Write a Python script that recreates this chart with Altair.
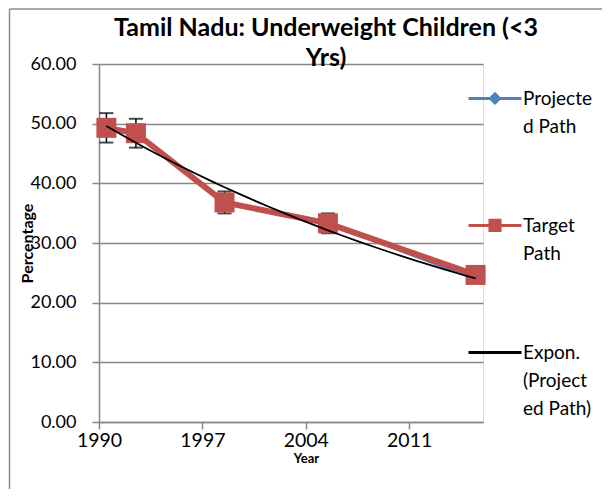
import altair as alt
import pandas as pd

# ---- data ----
years = [1990, 1992, 1998, 2005, 2015]
projected = [49.3, 48.4, 36.8, 33.3, 24.0]
target = [49.3, 48.4, 36.8, 33.3, 24.65]
series_names = ["Projected Path", "Target Path", "Expon. (Projected Path)"]
series_colors = ["#4F81BD", "#C0504D", "#000000"]
x_ticks = [1990, 1997, 2004, 2011]
y_ticks = [0, 10, 20, 30, 40, 50, 60]

df = pd.DataFrame({"year": years, "projected": projected, "target": target})

FONT = "Lato"
GRID = "#868686"
W, H = 384, 358

xscale = alt.Scale(domain=[1990, 2016], nice=False, zero=False)
yscale = alt.Scale(domain=[0, 60], nice=False)

x_enc = alt.X(
    "xpos:Q",
    scale=xscale,
    axis=alt.Axis(
        values=x_ticks, format="d", title="Year", grid=False, labelFlush=False,
        domainColor=GRID, domainWidth=1.5, tickColor=GRID, tickWidth=1.5, tickSize=7,
        labelFont=FONT, labelFontSize=19.5, labelColor="#000", labelPadding=2,
        titleFont=FONT, titleFontSize=13, titleFontWeight="bold", titleColor="#000",
        titleX=207, titleY=40, titleBaseline="alphabetic", titleAnchor="start", titleAlign="center",
    ),
)
y_axis = alt.Axis(
    values=y_ticks, format=".2f", title="Percentage", grid=True, labelFlush=False,
    gridColor=GRID, gridWidth=1.3, domainColor=GRID, domainWidth=1.5,
    tickColor=GRID, tickWidth=1.5, tickSize=7,
    labelFont=FONT, labelFontSize=18, labelColor="#000", labelPadding=16,
    titleFont=FONT, titleFontSize=16, titleFontWeight="bold", titleColor="#000",
    titleX=-72, titleY=179, titleAngle=-90, titleBaseline="middle", titleAlign="center",
)

base = alt.Chart(df).transform_calculate(xpos="datum.year + 0.5")

proj_line = base.mark_line(
    color="#4F81BD", strokeWidth=3,
    point=alt.OverlayMarkDef(shape="diamond", size=110, filled=True, color="#4F81BD", opacity=1),
).encode(x=x_enc, y=alt.Y("projected:Q", scale=yscale, axis=y_axis))

err = base.transform_calculate(lo="datum.target * 0.95", hi="datum.target * 1.05")
err_rule = err.mark_rule(color="black", strokeWidth=1.5).encode(
    x="xpos:Q", y="lo:Q", y2="hi:Q"
)
err_lo = err.mark_tick(color="black", orient="horizontal", size=14, thickness=2).encode(
    x="xpos:Q", y="lo:Q"
)
err_hi = err.mark_tick(color="black", orient="horizontal", size=14, thickness=2).encode(
    x="xpos:Q", y="hi:Q"
)

targ_line = base.mark_line(
    color="#C0504D", strokeWidth=6,
    point=alt.OverlayMarkDef(shape="square", size=400, filled=True, color="#C0504D", opacity=1),
).encode(x="xpos:Q", y="target:Q")

trend = base.transform_regression(
    "xpos", "projected", method="exp"
).mark_line(color="black", strokeWidth=1.8).encode(x="xpos:Q", y="projected:Q")

# legend (native Vega legend, driven by scales; the layer itself draws nothing)
shape_paths = [
    "M-1,-0.25H1M0,-0.42L0.17,-0.25L0,-0.08L-0.17,-0.25Z",
    "M-1,-0.25H1M-0.19,-0.44H0.19V-0.06H-0.19Z",
    "M-1,-0.25H1",
]
label_expr = (
    "datum.label == 'Projected Path' ? ['Projecte', 'd Path'] : "
    "datum.label == 'Target Path' ? ['Target', 'Path'] : "
    "['Expon.', '(Project', 'ed Path)']"
)
leg = alt.Legend(
    title=None, orient="none", legendX=368, legendY=13, padding=0,
    symbolSize=2809, symbolStrokeWidth=3, labelExpr=label_expr,
    labelFont=FONT, labelFontSize=19, labelColor="#000", labelOffset=0,
    labelBaseline="alphabetic", labelLimit=300, rowPadding=67,
)
legend_layer = (
    alt.Chart(df)
    .transform_calculate(series="'Projected Path'")
    .transform_filter("false")
    .mark_point(filled=True, opacity=1)
    .encode(
        color=alt.Color("series:N", scale=alt.Scale(domain=series_names, range=series_colors), legend=leg),
        stroke=alt.Stroke("series:N", scale=alt.Scale(domain=series_names, range=series_colors), legend=leg),
        shape=alt.Shape("series:N", scale=alt.Scale(domain=series_names, range=shape_paths), legend=leg),
    )
)

# outer chart frame (left and top edges visible in the reference)
frame_df = pd.DataFrame({"k": [0]})
frame_left = alt.Chart(frame_df).mark_rule(color="#8C8C8C", strokeWidth=1.5).encode(
    x=alt.value(-89.5), y=alt.value(-55), y2=alt.value(440)
)
frame_top = alt.Chart(frame_df).mark_rule(color="#8C8C8C", strokeWidth=1.5).encode(
    x=alt.value(-89.5), x2=alt.value(520), y=alt.value(-55)
)

chart = alt.layer(
    frame_left, frame_top, proj_line, err_rule, err_lo, err_hi, targ_line, trend, legend_layer
).properties(
    width=W, height=H,
    title=alt.Title(
        ["Tamil Nadu: Underweight Children (<3", "Yrs)"],
        font=FONT, fontSize=25, fontWeight="bold", color="#000",
        anchor="middle", frame="group", dx=35, offset=-6, dy=56.5, lineHeight=30,
    ),
    autosize=alt.AutoSizeParams(type="none"),
    padding={"left": 91, "top": 56, "right": 119, "bottom": 67},
).configure_view(stroke=None).configure(
    style={"guide-label": {"lineHeight": 28}}
)

chart.save("out.html", embed_options={"renderer": "svg", "actions": False})
